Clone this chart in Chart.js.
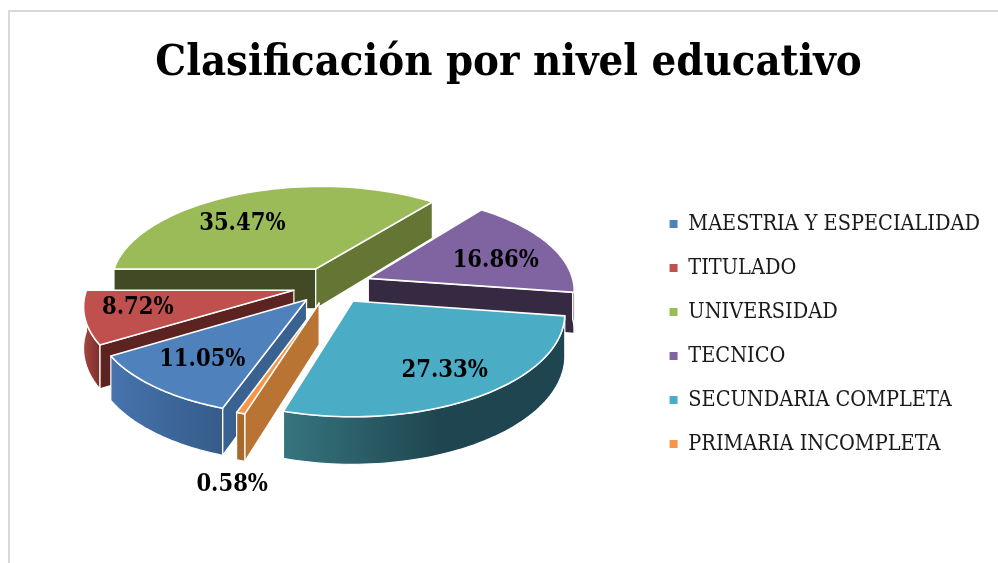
<!DOCTYPE html>
<html>
<head>
<meta charset="utf-8">
<script src="https://cdn.jsdelivr.net/npm/chart.js@4/dist/chart.umd.min.js"></script>
<style>
  html, body { margin: 0; padding: 0; background: #fff; overflow: hidden; }
  #frame { position: absolute; left: 8px; top: 10px; width: 1000px; height: 560px;
           border-top: 2px solid #d9d9d9; border-left: 2px solid #d9d9d9; }
  #chart { position: absolute; left: 0; top: 0; }
</style>
</head>
<body>
<div id="frame"></div>
<canvas id="chart" width="998" height="563"></canvas>
<script>
// datos
const niveles = ['MAESTRIA Y ESPECIALIDAD', 'TITULADO', 'UNIVERSIDAD', 'TECNICO', 'SECUNDARIA COMPLETA', 'PRIMARIA INCOMPLETA'];
const porcentajes = [11.05, 8.72, 35.47, 16.86, 27.33, 0.58];

// colores de la cara superior y de las paredes
const colores = ['#4f81bd', '#c0504d', '#9bbb59', '#8064a2', '#4bacc6', '#f79646'];
const caraInicio = ['#3a6290', '#5c2320', '#414a24', '#362a42', '#1f4650', '#b97333'];
const caraFin = ['#3a6290', '#5c2320', '#657534', '#362a42', '#33737f', '#b97333'];
const bordeDesde = ['#4674ad', '#a8453f', '#657534', '#362a42', '#36757f', '#a66a2e'];
const bordeHasta = ['#355c8a', '#7b302d', '#657534', '#362a42', '#1f4650', '#a66a2e'];

// donde va cada etiqueta: fraccion del radio y giro en grados
const etiquetaRadio = [0.71, 0.75, 0.65, 0.665, 0.75, 1.49];
const etiquetaGiro = [0, 2, -12, 6, 0, -6];

const FUENTE = '"DejaVu Serif Condensed", "DejaVu Serif", serif';
const INCLINACION = 0.47;
const PERSPECTIVA = 0.00062;
const ESCALA = 1.015;
const SESGO = 0.018;
const GROSOR = 40;
const SEPARACION = 38.6;

// pasa un punto del plano del pastel a la pantalla
function proyectar(arc, X, Y, Z) {
    const s = ESCALA / (1 - PERSPECTIVA * Y);
    return [arc.x + X * s - SESGO * Y, arc.y + Y * INCLINACION * s + Z * s];
}

function centroDe(arc) {
    const medio = (arc.startAngle + arc.endAngle) / 2;
    const sep = arc.options.offset;
    return [Math.cos(medio) * sep, Math.sin(medio) * sep];
}

function puntoBorde(arc, angulo, Z) {
    const c = centroDe(arc);
    return proyectar(arc, c[0] + Math.cos(angulo) * arc.outerRadius, c[1] + Math.sin(angulo) * arc.outerRadius, Z);
}

function trazar(ctx, puntos) {
    ctx.beginPath();
    puntos.forEach((p, i) => i ? ctx.lineTo(p[0], p[1]) : ctx.moveTo(p[0], p[1]));
    ctx.closePath();
}

function rellenar(ctx, puntos, relleno, linea) {
    trazar(ctx, puntos);
    ctx.fillStyle = relleno;
    ctx.fill();
    ctx.strokeStyle = '#ffffff';
    ctx.lineWidth = linea;
    ctx.lineJoin = 'round';
    ctx.stroke();
}

// cara recta de la porcion, desde el centro hasta el borde
function caraRecta(ctx, arc, angulo, color) {
    const c = centroDe(arc);
    rellenar(ctx, [
        proyectar(arc, c[0], c[1], 0),
        puntoBorde(arc, angulo, 0),
        puntoBorde(arc, angulo, GROSOR),
        proyectar(arc, c[0], c[1], GROSOR)
    ], color, 1.2);
}

function paredes(ctx, arc, i) {
    // solo se ven las caras que miran al frente
    if (Math.sin(arc.startAngle - Math.PI / 2) > 0) caraRecta(ctx, arc, arc.startAngle, caraInicio[i]);
    if (Math.sin(arc.endAngle + Math.PI / 2) > 0) caraRecta(ctx, arc, arc.endAngle, caraFin[i]);

    // pared curva, solo la parte delantera
    const arriba = [];
    const abajo = [];
    for (let n = 0; n <= 60; n++) {
        const a = arc.startAngle + (arc.endAngle - arc.startAngle) * n / 60;
        if (Math.sin(a) >= 0) {
            arriba.push(puntoBorde(arc, a, 0));
            abajo.unshift(puntoBorde(arc, a, GROSOR));
        }
    }
    if (arriba.length < 2) return;
    const xs = arriba.map(p => p[0]);
    const grad = ctx.createLinearGradient(Math.min(...xs), 0, Math.max(...xs), 0);
    grad.addColorStop(0, bordeDesde[i]);
    grad.addColorStop(i === 4 ? 0.55 : 1, bordeHasta[i]);
    grad.addColorStop(1, bordeHasta[i]);
    rellenar(ctx, arriba.concat(abajo), grad, 1.2);
}

function superior(ctx, arc, i) {
    const c = centroDe(arc);
    const puntos = [proyectar(arc, c[0], c[1], 0)];
    for (let n = 0; n <= 60; n++) {
        puntos.push(puntoBorde(arc, arc.startAngle + (arc.endAngle - arc.startAngle) * n / 60, 0));
    }
    rellenar(ctx, puntos, colores[i], 1.6);
}

function etiqueta(ctx, arc, i) {
    const c = centroDe(arc);
    const a = (arc.startAngle + arc.endAngle) / 2 + etiquetaGiro[i] * Math.PI / 180;
    const r = etiquetaRadio[i] * arc.outerRadius;
    const p = proyectar(arc, c[0] + Math.cos(a) * r, c[1] + Math.sin(a) * r, 0);
    ctx.fillStyle = '#000000';
    ctx.font = 'bold 23.5px ' + FUENTE;
    ctx.textAlign = 'center';
    ctx.textBaseline = 'middle';
    ctx.fillText(porcentajes[i].toFixed(2) + '%', p[0], p[1]);
}

// Chart.js no tiene pastel 3D: se pintan sus propios arcos con volumen
const pastel3d = {
    id: 'pastel3d',
    afterLayout(chart) {
        const legend = chart.legend;
        const dy = 334 - (legend.top + legend.bottom) / 2;
        legend.top += dy;
        legend.bottom += dy;
        chart.titleBlock.left += 5;
        chart.titleBlock.right += 5;
    },
    beforeDatasetDraw(chart, args) {
        const ctx = chart.ctx;
        const arcos = args.meta.data;
        const orden = arcos.map((arc, i) => i).sort((a, b) => {
            const ma = (arcos[a].startAngle + arcos[a].endAngle) / 2;
            const mb = (arcos[b].startAngle + arcos[b].endAngle) / 2;
            return Math.sin(ma) - Math.sin(mb);
        });
        ctx.save();
        orden.forEach(i => paredes(ctx, arcos[i], i));
        orden.forEach(i => superior(ctx, arcos[i], i));
        orden.forEach(i => etiqueta(ctx, arcos[i], i));
        ctx.restore();
        return false;
    }
};

new Chart(document.getElementById('chart'), {
    type: 'pie',
    data: {
        labels: niveles,
        datasets: [{
            data: porcentajes,
            backgroundColor: colores,
            borderWidth: 0,
            offset: SEPARACION,
            clip: false
        }]
    },
    options: {
        responsive: false,
        animation: false,
        events: [],
        rotation: -161.2,
        radius: 203,
        layout: {
            padding: { left: 17, right: 8, top: 0, bottom: 94 }
        },
        plugins: {
            title: {
                display: true,
                text: 'Clasificación por nivel educativo',
                color: '#000000',
                font: { family: FUENTE, size: 43.2, weight: 'bold' },
                padding: { top: 38, bottom: 11.5 }
            },
            legend: {
                display: true,
                position: 'right',
                labels: {
                    color: '#1a1a1a',
                    font: { family: FUENTE, size: 21.5 },
                    boxWidth: 8,
                    boxHeight: 8,
                    padding: 22.5
                }
            },
            tooltip: { enabled: false }
        }
    },
    plugins: [pastel3d]
});
</script>
</body>
</html>
